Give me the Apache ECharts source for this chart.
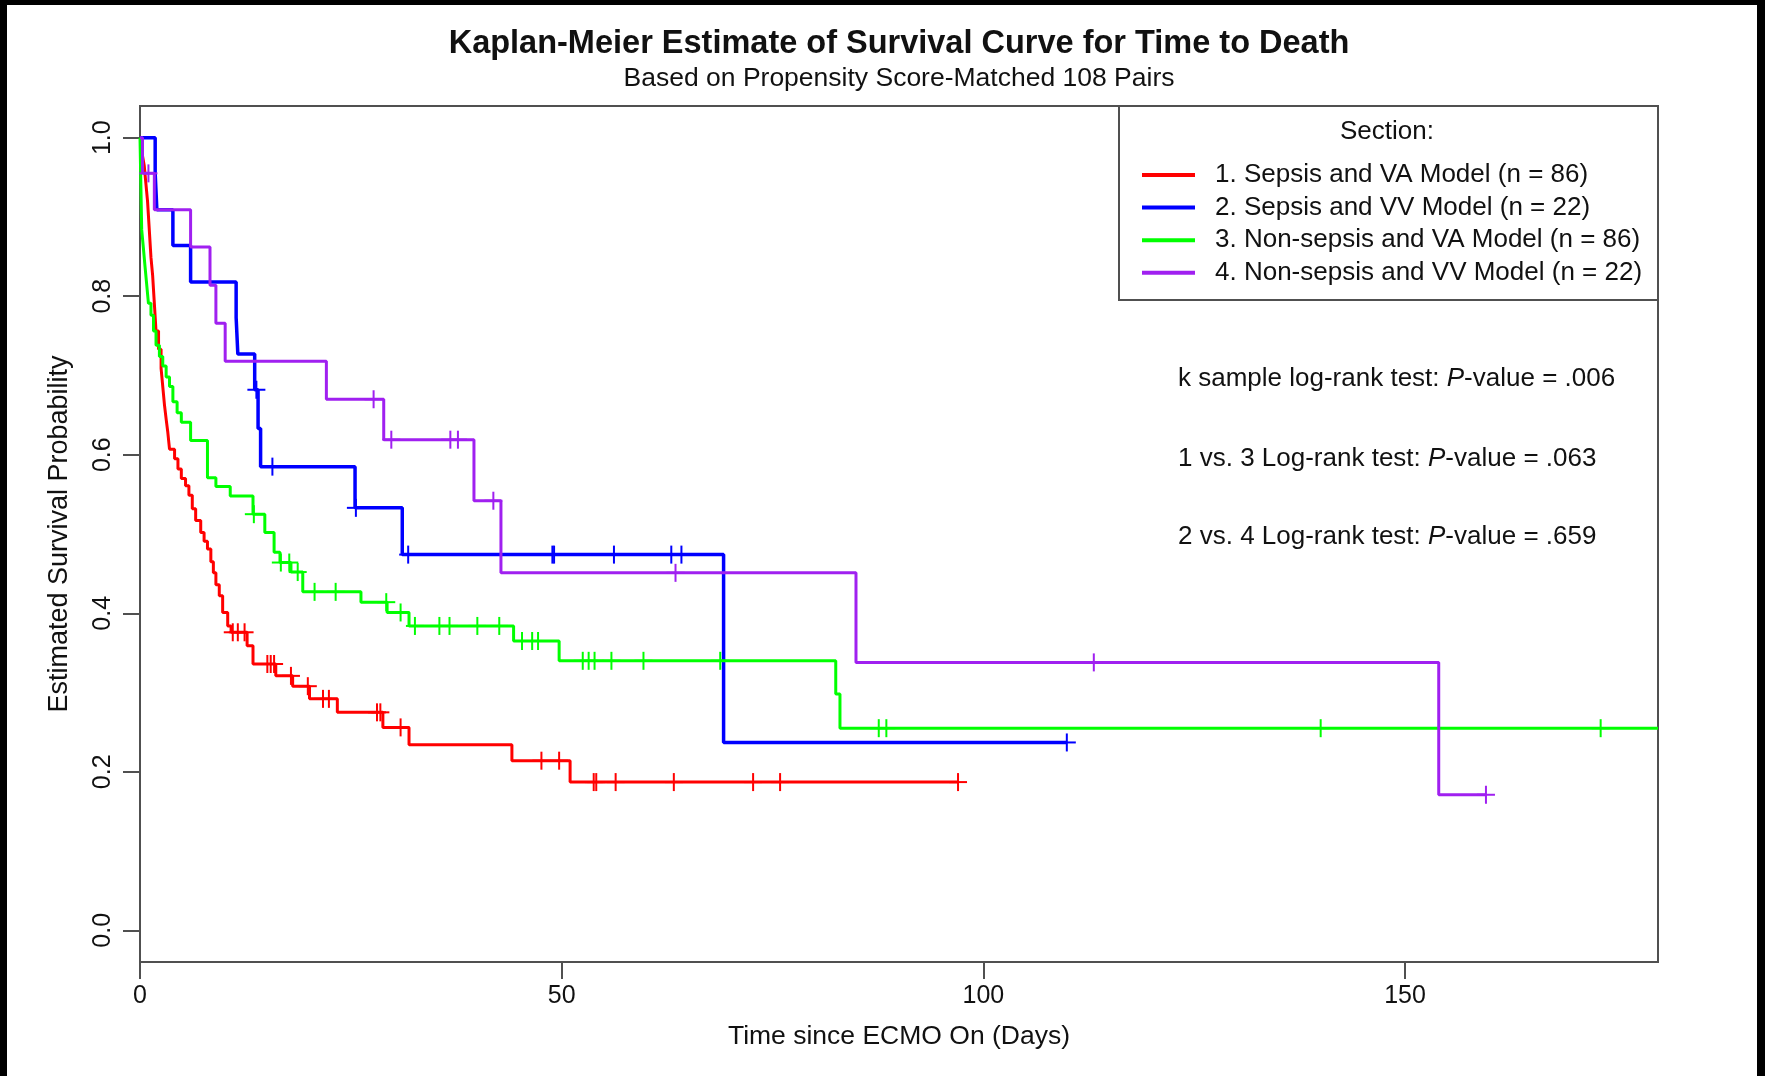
<!DOCTYPE html>
<html>
<head>
<meta charset="utf-8">
<title>Kaplan-Meier Estimate of Survival Curve for Time to Death</title>
<script src="https://cdn.jsdelivr.net/npm/echarts@6/dist/echarts.min.js"></script>
<style>
  html, body { margin: 0; padding: 0; background: #fff; }
  #chart { width: 1765px; height: 1076px; }
</style>
</head>
<body>
<div id="chart"></div>
<script>
// Kaplan-Meier step curves: event times (days) and survival estimate after each step
const sepsisVA_time = [0, 0.3, 0.5, 0.7, 0.9, 1.1, 1.3, 1.5, 1.7, 1.9, 2.2, 2.5, 2.7, 2.9, 3.1, 3.3, 3.5, 4.1, 4.5, 4.9, 5.4, 5.8, 6.2, 6.6, 7.2, 7.6, 8.0, 8.4, 8.7, 9.0, 9.4, 9.8, 10.4, 10.8, 12.7, 13.4, 16.1, 18.1, 20.1, 23.4, 28.8, 31.9, 44.1, 51.0, 97.0];
const sepsisVA_surv = [1.0, 0.977, 0.965, 0.942, 0.919, 0.884, 0.849, 0.826, 0.791, 0.756, 0.733, 0.709, 0.686, 0.663, 0.645, 0.628, 0.607, 0.595, 0.582, 0.570, 0.561, 0.549, 0.532, 0.517, 0.502, 0.491, 0.481, 0.465, 0.451, 0.436, 0.422, 0.401, 0.384, 0.376, 0.359, 0.336, 0.321, 0.308, 0.292, 0.275, 0.256, 0.234, 0.214, 0.187, 0.187];
const sepsisVA_censor = [11.0, 11.6, 12.4, 15.1, 15.5, 15.9, 17.9, 19.9, 21.7, 22.4, 28.1, 28.5, 30.9, 47.6, 49.7, 53.8, 54.1, 56.4, 63.3, 72.7, 75.9, 97.0];

const sepsisVV_time = [0, 1.8, 2.0, 3.9, 6.0, 11.4, 11.6, 13.6, 14.0, 14.3, 25.5, 31.1, 69.2, 109.9];
const sepsisVV_surv = [1.0, 0.955, 0.909, 0.864, 0.818, 0.773, 0.727, 0.682, 0.633, 0.585, 0.533, 0.474, 0.237, 0.237];
const sepsisVV_censor = [13.8, 15.7, 25.6, 31.8, 48.9, 49.1, 56.2, 63.0, 64.2, 109.9];

const nonSepsisVA_time = [0, 0.1, 0.2, 0.4, 0.6, 0.8, 1.0, 1.3, 1.6, 1.9, 2.3, 2.7, 3.1, 3.5, 3.9, 4.4, 4.9, 6.0, 8.0, 9.0, 10.7, 13.4, 14.8, 15.9, 16.6, 17.9, 19.3, 26.2, 29.3, 31.9, 44.3, 49.7, 82.5, 83.0, 180];
const nonSepsisVA_surv = [1.0, 0.942, 0.884, 0.861, 0.837, 0.814, 0.791, 0.776, 0.756, 0.738, 0.724, 0.712, 0.698, 0.686, 0.667, 0.653, 0.641, 0.618, 0.571, 0.560, 0.548, 0.525, 0.502, 0.477, 0.464, 0.452, 0.427, 0.414, 0.401, 0.384, 0.365, 0.340, 0.298, 0.255, 0.255];
const nonSepsisVA_censor = [13.5, 16.7, 17.7, 18.7, 20.7, 23.2, 29.2, 30.9, 32.6, 35.5, 36.7, 40.0, 42.6, 45.3, 46.5, 47.2, 52.5, 53.2, 53.9, 55.9, 59.7, 68.8, 87.6, 88.5, 140.0, 173.2];

const nonSepsisVV_time = [0, 0.3, 1.7, 6.0, 8.3, 9.0, 10.1, 22.1, 28.9, 39.6, 42.8, 84.9, 154.0, 159.6];
const nonSepsisVV_surv = [1.0, 0.955, 0.909, 0.862, 0.814, 0.766, 0.718, 0.670, 0.619, 0.542, 0.451, 0.338, 0.171, 0.171];
const nonSepsisVV_censor = [1.0, 27.7, 29.8, 36.8, 37.7, 41.9, 63.5, 113.1, 159.6];

const groupNames = [
  '1. Sepsis and VA Model (n = 86)',
  '2. Sepsis and VV Model (n = 22)',
  '3. Non-sepsis and VA Model (n = 86)',
  '4. Non-sepsis and VV Model (n = 22)'
];
const groupColors = ['#ff0000', '#0000ff', '#00ff00', '#a020f0'];
const xTicks = [0, 50, 100, 150];
const yTicks = [0, 0.2, 0.4, 0.6, 0.8, 1.0];
const statLines = [
  ['k sample log-rank test: ', 'P', '-value = .006'],
  ['1 vs. 3 Log-rank test: ', 'P', '-value = .063'],
  ['2 vs. 4 Log-rank test: ', 'P', '-value = .659']
];

const FONT = '"Liberation Sans", Arial, Helvetica, sans-serif';
const FRAME = '#505050';

const groups = [
  { time: sepsisVA_time, surv: sepsisVA_surv, censor: sepsisVA_censor, width: 3 },
  { time: sepsisVV_time, surv: sepsisVV_surv, censor: sepsisVV_censor, width: 3.5 },
  { time: nonSepsisVA_time, surv: nonSepsisVA_surv, censor: nonSepsisVA_censor, width: 3 },
  { time: nonSepsisVV_time, surv: nonSepsisVV_surv, censor: nonSepsisVV_censor, width: 3 }
];

// survival estimate in force at time t (right-continuous step function)
function survivalAt(g, t) {
  let s = g.surv[0];
  for (let i = 0; i < g.time.length; i++) {
    if (g.time[i] <= t) s = g.surv[i]; else break;
  }
  return s;
}

const series = [];
groups.forEach((g, k) => {
  series.push({
    name: groupNames[k],
    type: 'line',
    step: 'end',
    showSymbol: false,
    symbol: 'none',
    z: 3,
    color: groupColors[k],
    itemStyle: { color: groupColors[k] },
    lineStyle: { color: groupColors[k], width: g.width },
    data: g.time.map((t, i) => [t, g.surv[i]]),
    silent: true
  });
});
// censored observations drawn as "+" marks on the curves
groups.forEach((g, k) => {
  const color = groupColors[k];
  series.push({
    name: groupNames[k],
    type: 'custom',
    z: 4,
    silent: true,
    data: g.censor.map(t => [t, survivalAt(g, t)]),
    renderItem: function (params, api) {
      const p = api.coord([api.value(0), api.value(1)]);
      const h = 9;
      return {
        type: 'group',
        children: [
          { type: 'line', shape: { x1: p[0], y1: p[1] - h, x2: p[0], y2: p[1] + h }, style: { stroke: color, lineWidth: 2 } },
          { type: 'line', shape: { x1: p[0] - h, y1: p[1], x2: p[0] + h, y2: p[1] }, style: { stroke: color, lineWidth: 2 } }
        ]
      };
    }
  });
});

const graphics = [
  // legend frame and heading
  { type: 'rect', shape: { x: 1119, y: 106, width: 539, height: 194 }, style: { fill: 'none', stroke: FRAME, lineWidth: 2 }, z: 5 },
  { type: 'text', x: 1387, y: 132, style: { text: 'Section:', font: '26px ' + FONT, fill: '#111', align: 'center', verticalAlign: 'middle' }, z: 5 },
  // frame around the figure
  { type: 'rect', shape: { x: 0, y: 0, width: 7, height: 1076 }, style: { fill: '#000' }, z: 10 },
  { type: 'rect', shape: { x: 0, y: 0, width: 1765, height: 5 }, style: { fill: '#000' }, z: 10 },
  { type: 'rect', shape: { x: 1757, y: 0, width: 8, height: 1076 }, style: { fill: '#000' }, z: 10 }
];
const statY = [379, 459, 537];
statLines.forEach((parts, i) => {
  graphics.push({
    type: 'text', x: 1178, y: statY[i], z: 5,
    style: {
      text: parts[0] + '{i|' + parts[1] + '}' + parts[2],
      font: '26px ' + FONT, fill: '#111', verticalAlign: 'middle',
      rich: { i: { fontStyle: 'italic', fontSize: 26, fontFamily: FONT, fill: '#111' } }
    }
  });
});

const chart = echarts.init(document.getElementById('chart'), null, { renderer: 'canvas' });
chart.setOption({
  backgroundColor: '#ffffff',
  animation: false,
  textStyle: { fontFamily: FONT },
  title: [
    { text: 'Kaplan-Meier Estimate of Survival Curve for Time to Death', left: 899, top: 28, textAlign: 'center', padding: 0,
      textStyle: { fontSize: 32.5, fontWeight: 'bold', color: '#111', fontFamily: FONT } },
    { text: 'Based on Propensity Score-Matched 108 Pairs', left: 899, top: 65, textAlign: 'center', padding: 0,
      textStyle: { fontSize: 26.5, fontWeight: 'normal', color: '#111', fontFamily: FONT } }
  ],
  legend: {
    data: groupNames,
    orient: 'vertical',
    left: 1142,
    top: 162,
    padding: 0,
    itemWidth: 53,
    itemHeight: 4,
    itemGap: 6.6,
    icon: 'rect',
    selectedMode: false,
    textStyle: { fontSize: 26, lineHeight: 26, color: '#111', fontFamily: FONT, padding: [0, 0, 0, 15] }
  },
  grid: {
    left: 140, right: 107, top: 106, bottom: 114,
    show: true, borderColor: FRAME, borderWidth: 2, backgroundColor: '#fff'
  },
  xAxis: {
    type: 'value', min: 0, max: 180,
    name: 'Time since ECMO On (Days)', nameLocation: 'middle', nameGap: 61,
    nameTextStyle: { fontSize: 26.5, color: '#111', fontFamily: FONT },
    axisLine: { show: true, onZero: false, lineStyle: { color: FRAME, width: 2 } },
    axisTick: { show: true, inside: false, customValues: xTicks, length: 17, lineStyle: { color: FRAME, width: 2 } },
    axisLabel: { customValues: xTicks, fontSize: 25, color: '#111', margin: 22, fontFamily: FONT },
    splitLine: { show: false }
  },
  yAxis: {
    type: 'value', min: -0.04, max: 1.04,
    name: 'Estimated Survival Probability', nameLocation: 'middle', nameGap: 67,
    nameTextStyle: { fontSize: 27, color: '#111', fontFamily: FONT },
    axisLine: { show: true, onZero: false, lineStyle: { color: FRAME, width: 2 } },
    axisTick: { show: true, inside: false, customValues: yTicks, length: 17, lineStyle: { color: FRAME, width: 2 } },
    axisLabel: { customValues: yTicks, rotate: 90, fontSize: 25, color: '#111', margin: 24, fontFamily: FONT,
      formatter: v => v.toFixed(1) },
    splitLine: { show: false }
  },
  graphic: graphics,
  series: series
});
</script>
</body>
</html>
